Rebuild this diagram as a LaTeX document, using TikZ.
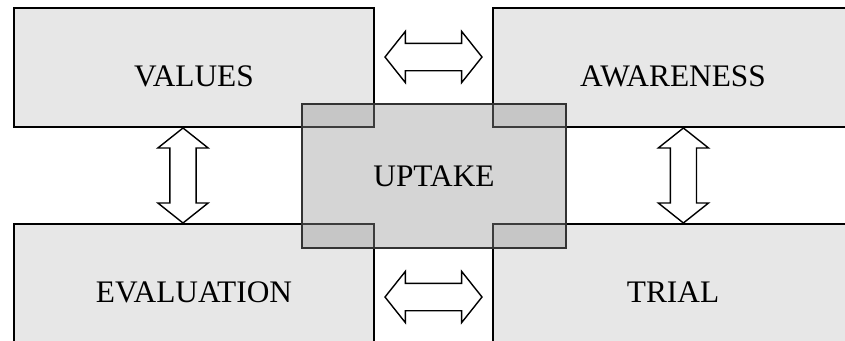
\documentclass[tikz,border=0pt]{standalone}
\usepackage{fontspec}
\setmainfont{Liberation Serif}
\usepackage{xcolor}
\usetikzlibrary{shapes.arrows, positioning, calc}
\definecolor{boxgray}{RGB}{231,231,231}
\definecolor{coregray}{RGB}{150,150,150}
\tikzset{
  stage/.style={rectangle, draw=black, fill=boxgray, line width=1.4pt,
    minimum width=90mm, minimum height=29.75mm, inner sep=0pt,
    text height=27.7pt, text depth=0pt, font=\fontsize{22.3}{26}\selectfont},
  core/.style={rectangle, draw=black!80, fill=coregray, fill opacity=0.4, text opacity=1,
    line width=1pt, minimum width=66mm, minimum height=36mm,
    font=\fontsize{22.3}{26}\selectfont},
  dblarr/.style={double arrow, draw=black, fill=white, line width=1pt,
    inner xsep=0pt, inner ysep=3.25mm, text height=0pt, text depth=0pt,
    minimum height=24.25mm,
    double arrow head extend=3mm, double arrow tip angle=103},
  dblvert/.style={dblarr, shape border rotate=90, inner xsep=3.1mm, inner ysep=0pt,
    minimum height=23.75mm}
}
\begin{document}
\begin{tikzpicture}
  \clip (0,0) rectangle (211.25mm,-85.25mm);
  % four stages
  \node[stage] (values) at (48.5mm,-16.875mm) {VALUES};
  \node[stage] (awareness) at (168.25mm,-16.875mm) {AWARENESS};
  \node[stage] (evaluation) at (48.5mm,-70.875mm) {EVALUATION};
  \node[stage] (trial) at (168.25mm,-70.875mm) {TRIAL};
  % centre
  \node[core] (uptake) at (108.5mm,-44mm) {UPTAKE};
  % links
  \node[dblarr] (va) at ($(values.north east)!.5!(awareness.north west)+(0,-12.5mm)$) {};
  \node[dblarr] (et) at ($(evaluation.north east)!.5!(trial.north west)+(0,-18.5mm)$) {};
  \node[dblvert] (ve) at ($(values.south)!.5!(evaluation.north)+(-2.75mm,0)$) {};
  \node[dblvert] (at) at ($(awareness.south)!.5!(trial.north)+(2.6mm,0)$) {};
\end{tikzpicture}
\end{document}
